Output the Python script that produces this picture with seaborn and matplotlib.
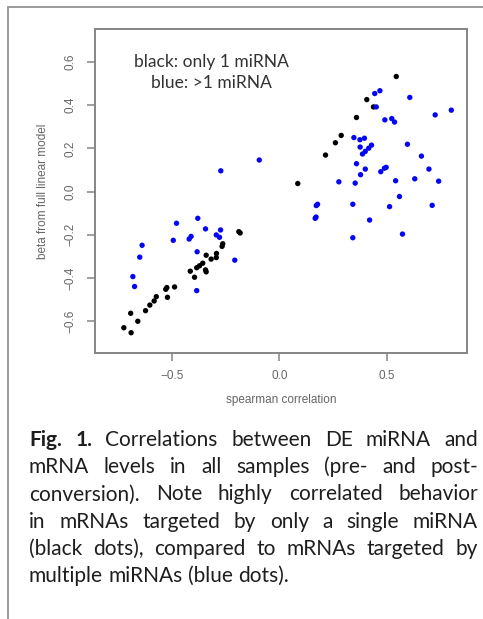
import matplotlib
matplotlib.use("Agg")
import numpy as np
import pandas as pd
import seaborn as sns
import matplotlib.pyplot as plt
from matplotlib.lines import Line2D

# ---------------- data ----------------
black_x = [0.543, 0.406, 0.437, 0.358, 0.287, 0.260, 0.214, 0.085,
           -0.183, -0.189, -0.264, -0.267, -0.293, -0.294, -0.318, -0.341,
           -0.357, -0.372, -0.385, -0.344, -0.341, -0.415, -0.395, -0.488,
           -0.524, -0.529, -0.521, -0.573, -0.583, -0.603, -0.623, -0.692,
           -0.659, -0.724, -0.690]
black_y = [0.533, 0.426, 0.392, 0.343, 0.260, 0.226, 0.169, 0.037,
           -0.192, -0.186, -0.242, -0.254, -0.287, -0.306, -0.313, -0.295,
           -0.332, -0.344, -0.353, -0.363, -0.372, -0.369, -0.397, -0.442,
           -0.445, -0.453, -0.490, -0.487, -0.507, -0.526, -0.552, -0.564,
           -0.601, -0.631, -0.654]

blue_x = [0.443, 0.467, 0.450, 0.606, 0.799, 0.724, 0.490, 0.522, 0.535,
          0.346, 0.374, 0.395, 0.375, 0.428, 0.415, 0.399, 0.386, 0.595,
          0.660, 0.358, 0.399, 0.377, 0.471, 0.488, 0.496, 0.695, 0.629,
          0.540, 0.740, 0.276, 0.352, 0.558, 0.177, 0.171, 0.341, 0.512,
          0.710, 0.166, 0.170, 0.419, 0.341, 0.572,
          -0.273, -0.094, -0.479, -0.380, -0.344, -0.274, -0.294, -0.279,
          -0.411, -0.420, -0.494, -0.639, -0.650, -0.383, -0.208, -0.682,
          -0.674, -0.385]
blue_y = [0.454, 0.467, 0.392, 0.436, 0.377, 0.355, 0.332, 0.338, 0.322,
          0.250, 0.240, 0.247, 0.206, 0.215, 0.201, 0.186, 0.174, 0.219,
          0.164, 0.129, 0.104, 0.078, 0.092, 0.108, 0.112, 0.104, 0.059,
          0.050, 0.048, 0.045, 0.039, -0.023, -0.059, -0.065, -0.059, -0.070,
          -0.064, -0.124, -0.118, -0.132, -0.214, -0.197,
          0.096, 0.146, -0.147, -0.124, -0.173, -0.178, -0.201, -0.212,
          -0.208, -0.220, -0.226, -0.249, -0.304, -0.279, -0.318, -0.394,
          -0.440, -0.459]

x_ticks = [-0.5, 0.0, 0.5]
x_tick_labels = ["\u22120.5", "0.0", "0.5"]
y_ticks = [-0.6, -0.4, -0.2, 0.0, 0.2, 0.4, 0.6]
y_tick_labels = ["\u22120.6", "\u22120.4", "\u22120.2", "0.0", "0.2", "0.4", "0.6"]

caption_lines = [
    [("Fig.", "bold"), ("1.", "bold"), ("Correlations", "normal"), ("between", "normal"),
     ("DE", "normal"), ("miRNA", "normal"), ("and", "normal")],
    "mRNA levels in all samples (pre- and post-",
    "conversion). Note highly correlated behavior",
    "in mRNAs targeted by only a single miRNA",
    "(black dots), compared to mRNAs targeted by",
    "multiple miRNAs (blue dots).",
]

# ---------------- figure ----------------
sns.set_style("white")
plt.rcParams["font.family"] = ["Liberation Sans", "DejaVu Sans"]

W, H = 483, 619
fig = plt.figure(figsize=(W / 100, H / 100), dpi=100)
fig.patch.set_facecolor("white")

ax_l, ax_r, ax_t, ax_b = 95, 467, 29, 353
ax = fig.add_axes([ax_l / W, 1 - ax_b / H, (ax_r - ax_l) / W, (ax_b - ax_t) / H])

df = pd.DataFrame({
    "x": black_x + blue_x,
    "y": black_y + blue_y,
    "group": ["black"] * len(black_x) + ["blue"] * len(blue_x),
})
sns.scatterplot(data=df, x="x", y="y", hue="group",
                palette={"black": "black", "blue": "#0505f5"},
                s=15, linewidth=0, legend=False, ax=ax, zorder=3)

ax.set_xlim(-0.858, 0.872)
ax.set_ylim(-0.748, 0.753)

ax.set_xticks(x_ticks)
ax.set_xticklabels(x_tick_labels)
ax.set_yticks(y_ticks)
ax.set_yticklabels(y_tick_labels, rotation=90, va="center")

gray = "#858585"
for sp in ax.spines.values():
    sp.set_visible(True)
    sp.set_color(gray)
    sp.set_linewidth(1.4)
ax.tick_params(axis="both", direction="out", length=6, width=1.1, color=gray,
               labelcolor="#666666", labelsize=8.5)
ax.tick_params(axis="x", pad=6, bottom=True)
ax.tick_params(axis="y", pad=7, left=True)

ax.set_xlabel("spearman correlation", fontsize=8.5, color="#666666")
ax.set_ylabel("beta from full linear model", fontsize=8.5, color="#666666")
ax.xaxis.set_label_coords(0.5, (ax_b - 400) / (ax_b - ax_t))
ax.xaxis.label.set_va("center")
ax.yaxis.set_label_coords((43 - ax_l) / (ax_r - ax_l), 0.5)
ax.yaxis.label.set_va("center")

ax.text(-0.315, 0.600, "black: only 1 miRNA", ha="center", va="center",
        fontsize=12.5, family="Lato", color="#333333")
ax.text(-0.315, 0.503, "blue: >1 miRNA", ha="center", va="center",
        fontsize=12.5, family="Lato", color="#333333")

# outer frame (top and left edges)
fig.add_artist(Line2D([8 / W, 1.0], [1 - 7 / H, 1 - 7 / H], transform=fig.transFigure,
                      color="#9a9a9a", lw=1.4))
fig.add_artist(Line2D([8 / W, 8 / W], [0.0, 1 - 7 / H], transform=fig.transFigure,
                      color="#9a9a9a", lw=1.4))

# caption with justified lines
renderer = fig.canvas.get_renderer()
cap_left, cap_right = 29, 478
cap_size = 15
base0, step = 446, 27.2
for i, line in enumerate(caption_lines):
    if isinstance(line, str):
        words = [(w, "normal") for w in line.split(" ")]
    else:
        words = line
    y_px = base0 + i * step
    texts = []
    for w, wt in words:
        t = fig.text(0, 1 - y_px / H, w, fontsize=cap_size, family="Lato",
                     weight=wt, color="#1e1e1e", va="baseline", ha="left")
        texts.append(t)
    widths = [t.get_window_extent(renderer).width for t in texts]
    space_t = fig.text(0, 0, "a b", fontsize=cap_size, family="Lato")
    ab = fig.text(0, 0, "ab", fontsize=cap_size, family="Lato")
    sp_w = space_t.get_window_extent(renderer).width - ab.get_window_extent(renderer).width
    space_t.remove(); ab.remove()
    last = (i == len(caption_lines) - 1)
    if last or len(texts) == 1:
        gap = sp_w
    else:
        gap = max((cap_right - cap_left - sum(widths)) / (len(texts) - 1), sp_w * 0.5)
    x = cap_left
    for t, wdt in zip(texts, widths):
        t.set_x(x / W)
        x += wdt + gap

fig.savefig("out.png", dpi=100)
